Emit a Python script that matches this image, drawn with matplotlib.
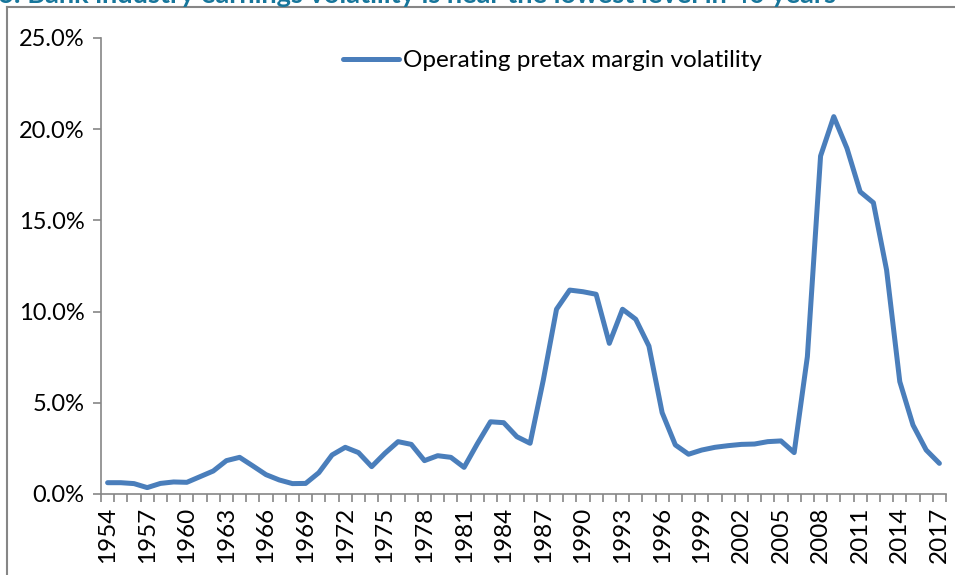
import matplotlib
matplotlib.use("Agg")
import matplotlib.pyplot as plt
from matplotlib.lines import Line2D
from matplotlib.ticker import FuncFormatter
import numpy as np

plt.rcParams["font.family"] = ["Lato", "DejaVu Sans"]

# 数据：年份与营业税前利润率波动率（%）
years = list(range(1954, 2018))
volatility = [
    0.62, 0.62, 0.57, 0.35, 0.58, 0.66, 0.64, 0.95, 1.26, 1.83,
    2.01, 1.54, 1.06, 0.77, 0.57, 0.58, 1.17, 2.14, 2.56, 2.27,
    1.50, 2.23, 2.87, 2.72, 1.83, 2.10, 2.01, 1.46, 2.75, 3.96,
    3.91, 3.14, 2.78, 6.25, 10.13, 11.18, 11.09, 10.95, 8.26, 10.13,
    9.58, 8.11, 4.46, 2.69, 2.18, 2.41, 2.56, 2.65, 2.72, 2.74,
    2.87, 2.91, 2.27, 7.53, 18.53, 20.69, 18.95, 16.57, 15.97, 12.28,
    6.16, 3.78, 2.41, 1.68,
]
series_label = "Operating pretax margin volatility"
title = "6: Bank industry earnings volatility is near the lowest level in 40 years"
y_ticks = [0, 5, 10, 15, 20, 25]

W, H = 955, 575
fig = plt.figure(figsize=(W / 100, H / 100), dpi=100)
ax = fig.add_axes([101 / W, 1 - 494 / H, (946 - 101) / W, (494 - 38) / H])

x = np.arange(len(years))
line_color = "#4A7EBB"
ax.plot(x, volatility, color=line_color, linewidth=3.6,
        solid_joinstyle="round", solid_capstyle="round", label=series_label)

ax.set_xlim(-0.5, len(years) - 0.5)
ax.set_ylim(0, 25)

grey = "#868686"
for side in ("top", "right"):
    ax.spines[side].set_visible(False)
for side in ("left", "bottom"):
    ax.spines[side].set_color(grey)
    ax.spines[side].set_linewidth(1.2)

ax.set_yticks(y_ticks)
ax.yaxis.set_major_formatter(FuncFormatter(lambda v, _: f"{v:.1f}%"))
ax.tick_params(axis="y", direction="out", length=6, color=grey, width=1.2,
               labelsize=17, pad=6)

# x 轴：刻度线在类目边界，标签每三年一个
ax.set_xticks(np.arange(len(years) + 1) - 0.5)
ax.set_xticklabels([])
ax.tick_params(axis="x", which="major", direction="out", length=6, color=grey, width=1.2)
label_pos = x[::3]
ax.set_xticks(label_pos, minor=True)
ax.set_xticklabels([str(years[i]) for i in label_pos], minor=True, rotation=90, fontsize=17.5)
ax.tick_params(axis="x", which="minor", length=0, pad=9)

ax.legend(loc="upper left", bbox_to_anchor=(343 / W, 1 - 50 / H),
          bbox_transform=fig.transFigure, frameon=False, fontsize=17.5,
          handlelength=2.3, handletextpad=0.15, borderpad=0, borderaxespad=0)

# 外框（左、上）
fig.add_artist(Line2D([7 / W, 7 / W], [0, 1 - 7 / H], color=grey, linewidth=1.5))
fig.add_artist(Line2D([7 / W, 1], [1 - 7 / H, 1 - 7 / H], color=grey, linewidth=1.5))

fig.text(-0.002, 1 - 3 / H, title, color="#17769B", fontsize=19.5, fontweight="bold",
         ha="left", va="baseline")

fig.savefig("out.png", dpi=100)
